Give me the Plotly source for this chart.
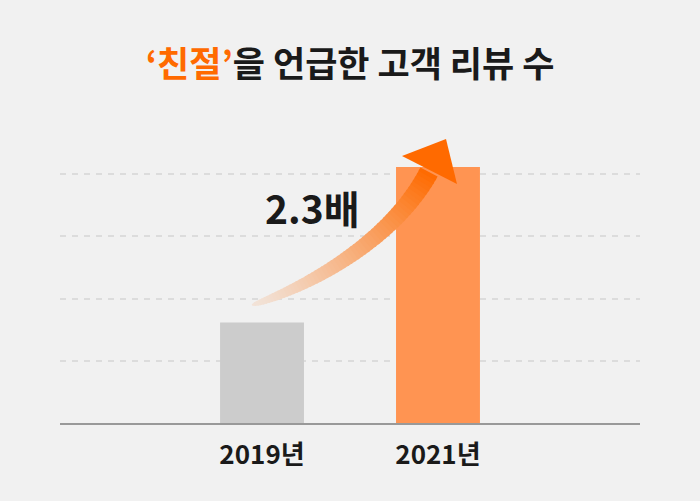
import numpy as np
import plotly.graph_objects as go

# chart data
years = ["2019년", "2021년"]
reviews = [32.3, 82.3]
bar_colors = ["#cccccc", "#ff9452"]
grid_ticks = [20, 40, 60, 80]
ratio_label = "2.3배"

BG = "#f1f1f1"
ORANGE = (255, 106, 0)
BG_RGB = (241, 241, 241)
FONT = "Noto Sans CJK KR"

W, H = 700, 501
ML, MR, MT, MB = 60, 60, 112, 78
PW, PH = W - ML - MR, H - MT - MB


def to_paper(px, py):
    return (px - ML) / PW, (H - MB - py) / PH


fig = go.Figure()
fig.add_trace(go.Bar(x=years, y=reviews, marker_color=bar_colors,
                     marker_line_width=0, width=0.477, hoverinfo="skip"))

# curved growth arrow (pixel geometry, drawn as strips to fake a gradient)
ctrl = np.array([[252, 305], [300, 290], [390, 245], [429, 172]], dtype=float)


def bez(t):
    return ((1 - t) ** 3 * ctrl[0] + 3 * t * (1 - t) ** 2 * ctrl[1]
            + 3 * t ** 2 * (1 - t) * ctrl[2] + t ** 3 * ctrl[3])


def bez_d(t):
    return (3 * (1 - t) ** 2 * (ctrl[1] - ctrl[0]) + 6 * t * (1 - t) * (ctrl[2] - ctrl[1])
            + 3 * t ** 2 * (ctrl[3] - ctrl[2]))


def edge(t):
    p = bez(t)
    d = bez_d(t)
    n = np.array([-d[1], d[0]]) / np.hypot(*d)
    hw = (1.5 + 18 * np.sqrt(t)) / 2
    return p + n * hw, p - n * hw


shapes = []
N = 60
for i in range(N):
    t0 = i / N
    t1 = min(1.0, (i + 1.4) / N)
    a0, b0 = edge(t0)
    a1, b1 = edge(t1)
    pts = [a0, a1, b1, b0]
    path = "M " + " L ".join("%.5f %.5f" % to_paper(*p) for p in pts) + " Z"
    tm = (i + 0.5) / N
    al = 0.1 + 0.9 * tm ** 1.4
    col = tuple(int(BG_RGB[k] * (1 - al) + ORANGE[k] * al) for k in range(3))
    shapes.append(dict(type="path", xref="paper", yref="paper", path=path,
                       fillcolor="rgb(%d,%d,%d)" % col, line_width=0, layer="above"))

head = [(402, 156), (446, 139), (457, 184)]
path = "M " + " L ".join("%.5f %.5f" % to_paper(*p) for p in head) + " Z"
shapes.append(dict(type="path", xref="paper", yref="paper", path=path,
                   fillcolor="rgb(255,106,0)", line_width=0, layer="above"))

lx, ly = to_paper(312, 207)
fig.add_annotation(x=lx, y=ly, xref="paper", yref="paper", text=ratio_label,
                   xanchor="center", yanchor="middle", showarrow=False,
                   font=dict(family=FONT, size=39, color="#1a1a1a", weight="bold"))

fig.update_layout(
    width=W, height=H,
    margin=dict(l=ML, r=MR, t=MT, b=MB),
    paper_bgcolor=BG, plot_bgcolor=BG,
    showlegend=False,
    shapes=shapes,
    title=dict(text="<span style='color:#ff6a00'>‘친절’</span>을 언급한 고객 리뷰 수",
               x=0.5, xanchor="center", y=1 - 65 / H, yanchor="middle",
               font=dict(family=FONT, size=35, color="#1a1a1a", weight="bold")),
    xaxis=dict(range=[-1.148, 2.148], showline=True, linecolor="#999999", linewidth=2,
               ticks="outside", ticklen=8, tickcolor="rgba(0,0,0,0)", showgrid=False,
               fixedrange=True,
               tickfont=dict(family=FONT, size=26, color="#1a1a1a", weight="bold")),
    yaxis=dict(range=[0, 100], tickvals=grid_ticks, showticklabels=False,
               showgrid=True, gridcolor="#dcdcdc", gridwidth=1.5, griddash="6px,6px",
               zeroline=False, fixedrange=True),
)

fig.write_html("out.html", config={"displayModeBar": False},
               post_script="document.body.style.margin='0';")
